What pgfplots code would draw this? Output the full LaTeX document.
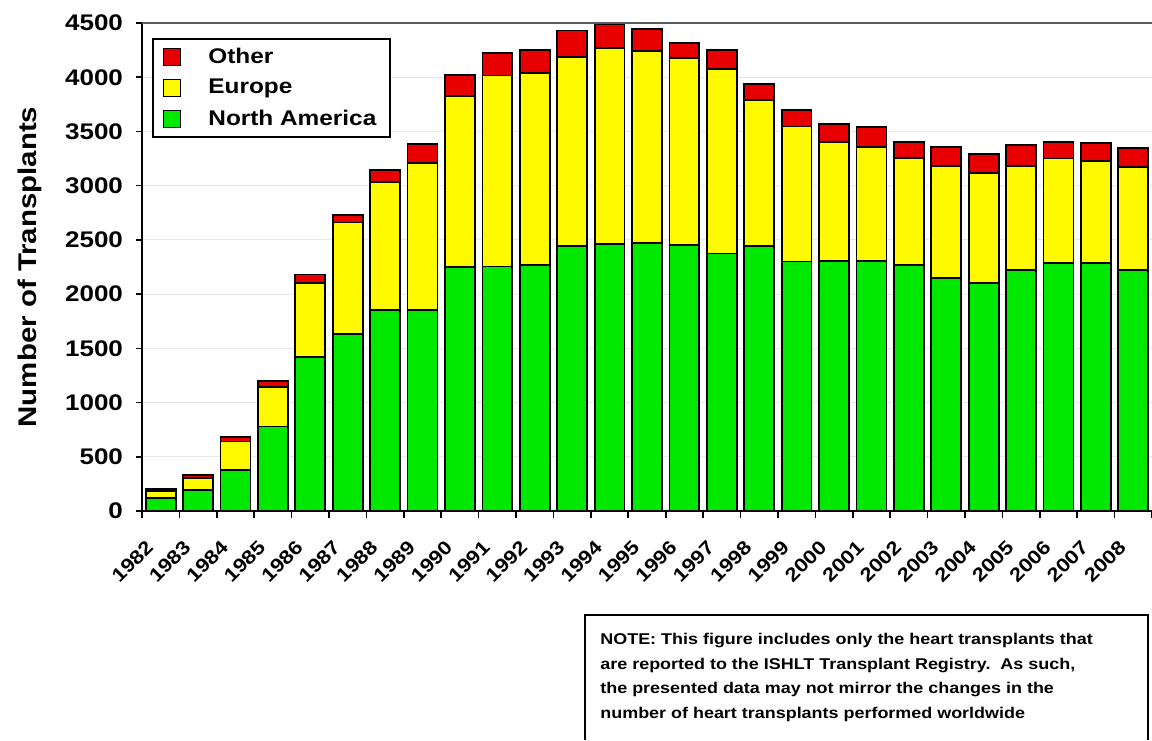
\documentclass[border=0pt]{standalone}
\usepackage{fontspec}
\setmainfont{Liberation Sans}[FakeStretch=1.15]
\usepackage{pgfplots}
\usepackage{pgfplotstable}
\pgfplotsset{compat=1.18}

\definecolor{naC}{RGB}{0,232,0}
\definecolor{euC}{RGB}{255,250,0}
\definecolor{otC}{RGB}{232,0,0}

% year index (0 = 1982), North America, Europe, Other
\pgfplotstableread{
x  na    eu    ot
0  120   65    15
1  195   110   25
2  375   265   40
3  780   365   55
4  1420  680   80
5  1630  1030  70
6  1850  1185  110
7  1850  1360  175
8  2250  1580  190
9  2255  1760  205
10 2270  1770  210
11 2445  1745  240
12 2465  1805  220
13 2475  1765  205
14 2450  1725  140
15 2375  1700  175
16 2440  1350  150
17 2300  1245  155
18 2305  1100  165
19 2305  1055  180
20 2265  990   150
21 2150  1035  175
22 2105  1015  175
23 2225  960   190
24 2285  965   155
25 2285  945   165
26 2225  950   175
}\heartdata

\begin{document}
\begin{tikzpicture}
\useasboundingbox (-71pt,-114.5pt) rectangle (505pt,255.5pt);
\begin{axis}[
    scale only axis,
    width=505pt, height=244pt,
    ybar stacked,
    bar width=0.8,
    xmin=-0.5, xmax=26.5,
    ymin=0, ymax=4500,
    axis lines*=left,
    axis line style={black, line width=1pt},
    ytick={0,500,...,4500},
    ymajorgrids,
    major grid style={gray!18, line width=0.6pt},
    tick align=outside,
    major tick length=3pt,
    minor tick length=3.5pt,
    tick style={black, line width=0.8pt},
    xtick={0,...,26},
    major x tick style={draw=none},
    minor xtick={-0.5,0.5,...,26.5},
    xticklabels={1982,1983,1984,1985,1986,1987,1988,1989,1990,1991,1992,1993,1994,1995,1996,1997,1998,1999,2000,2001,2002,2003,2004,2005,2006,2007,2008},
    xticklabel style={font=\bfseries\fontsize{9.6}{11}\selectfont, xshift=-3pt, yshift=-11pt, rotate=45, anchor=east},
    yticklabel style={font=\bfseries\fontsize{11.3}{13}\selectfont, xshift=-3pt,
        /pgf/number format/assume math mode=true, /pgf/number format/1000 sep={}},
    ylabel={Number of Transplants},
    ylabel style={font=\bfseries\fontsize{12.8}{15}\selectfont, at={(axis description cs:-0.111,0.5)}, anchor=center},
    reverse legend,
    legend cell align=left,
    legend style={at={(axis description cs:0,1)}, anchor=north west, xshift=5pt, yshift=-7.5pt,
        draw=black, line width=0.9pt, font=\bfseries\fontsize{10.6}{13}\selectfont,
        inner xsep=5pt, inner ysep=2.5pt, row sep=2.5pt},
    legend image code/.code={\draw[#1, line width=0.6pt] (0pt,-4.2pt) rectangle (8.4pt,4.2pt); \path (20pt,0pt);},
]
\addplot[draw=black, line width=0.9pt, fill=naC] table[x=x, y=na] {\heartdata};
\addplot[draw=black, line width=0.9pt, fill=euC] table[x=x, y=eu] {\heartdata};
\addplot[draw=black, line width=0.9pt, fill=otC] table[x=x, y=ot] {\heartdata};
\legend{North America, Europe, Other}
\end{axis}
\draw[gray!70!black, line width=1pt] (0,244pt) -- (505pt,244pt);
\draw[black, line width=1pt] (221.5pt,-114.5pt) -- (221.5pt,-52pt) -- (503pt,-52pt) -- (503pt,-114.5pt);
\node[anchor=north west, inner sep=0pt, align=left, font=\bfseries\fontsize{7.8}{12.25}\selectfont] at (229pt,-61pt)
  {NOTE: This figure includes only the heart transplants that\\
   are reported to the ISHLT Transplant Registry.\ \ As such,\\
   the presented data may not mirror the changes in the\\
   number of heart transplants performed worldwide};
\end{tikzpicture}
\end{document}
